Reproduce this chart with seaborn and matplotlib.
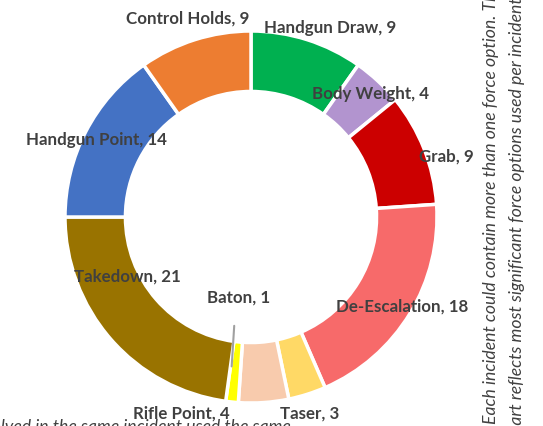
import numpy as np
import matplotlib
matplotlib.use("Agg")
import matplotlib.pyplot as plt
import seaborn as sns

# ---- data ----
categories = ["Handgun Draw", "Body Weight", "Grab", "De-Escalation", "Taser",
              "Rifle Point", "Baton", "Takedown", "Handgun Point", "Control Holds"]
counts = [9, 4, 9, 18, 3, 4, 1, 21, 14, 9]
note_side_1 = "Each incident could contain more than one force option. This"
note_side_2 = "chart reflects most significant force options used per incident."
note_bottom = "Officers involved in the same incident used the same"

# ---- style ----
colors = ["#00B050", "#B294CF", "#CC0000", "#F76A6A", "#FFD966",
          "#F8CBAD", "#FFFF00", "#997300", "#4472C4", "#ED7D31"]
# label placement: (angle shift in degrees clockwise, radius as fraction of outer radius)
label_shift = [5, 1, 4, -1, 1, 23.5, 3, 15.7, -0.7, 0]
label_rad = [1.107, 0.925, 1.10, 0.94, 1.097, 1.113, 0.435, 0.737, 0.93, 1.124]

sns.set_theme(style="white")
plt.rcParams["font.family"] = ["Lato", "DejaVu Sans"]

W, H, DPI = 5.43, 4.27, 100
fig = plt.figure(figsize=(W, H), dpi=DPI)
ax = fig.add_axes([0, 0, 1, 1])
cx_px, cy_px, R_px = 251, 218, 186

wedges, _ = ax.pie(counts, colors=colors, startangle=90, counterclock=False,
                   radius=1.0, center=(0, 0), frame=True,
                   wedgeprops=dict(width=0.325, edgecolor="white", linewidth=2.5))
ax.set_xlim(-cx_px / R_px, (W * DPI - cx_px) / R_px)
ax.set_ylim(-(H * DPI - cy_px) / R_px, cy_px / R_px)
ax.set_aspect("equal")
ax.axis("off")

total = sum(counts)
cum = np.cumsum([0] + counts)
for i, (name, v) in enumerate(zip(categories, counts)):
    mid = (cum[i] + v / 2) / total * 360.0
    ang = np.deg2rad(mid + label_shift[i])
    r = label_rad[i]
    x, y = r * np.sin(ang), r * np.cos(ang)
    ax.text(x, y, f"{name}, {v}", ha="center", va="center", fontsize=12.2,
            fontweight="bold", color="#404040", zorder=5)
    if name == "Baton":
        a0 = np.deg2rad(mid + 1.5)
        ax.plot([0.585 * np.sin(ang), 0.81 * np.sin(a0)],
                [-0.585, 0.81 * np.cos(a0)], color="#A0A0A0", lw=1.5, zorder=4)

fig.text(491 / (W * DPI), 3 / (H * DPI), note_side_1, rotation=90, style="italic",
         fontsize=12.7, color="#404040", ha="center", va="bottom")
fig.text(517 / (W * DPI), -15 / (H * DPI), note_side_2, rotation=90, style="italic",
         fontsize=12.7, color="#404040", ha="center", va="bottom")
fig.text(291 / (W * DPI), -8 / (H * DPI), note_bottom, style="italic",
         fontsize=12.7, color="#404040", ha="right", va="bottom")

fig.savefig("out.png", dpi=DPI)
